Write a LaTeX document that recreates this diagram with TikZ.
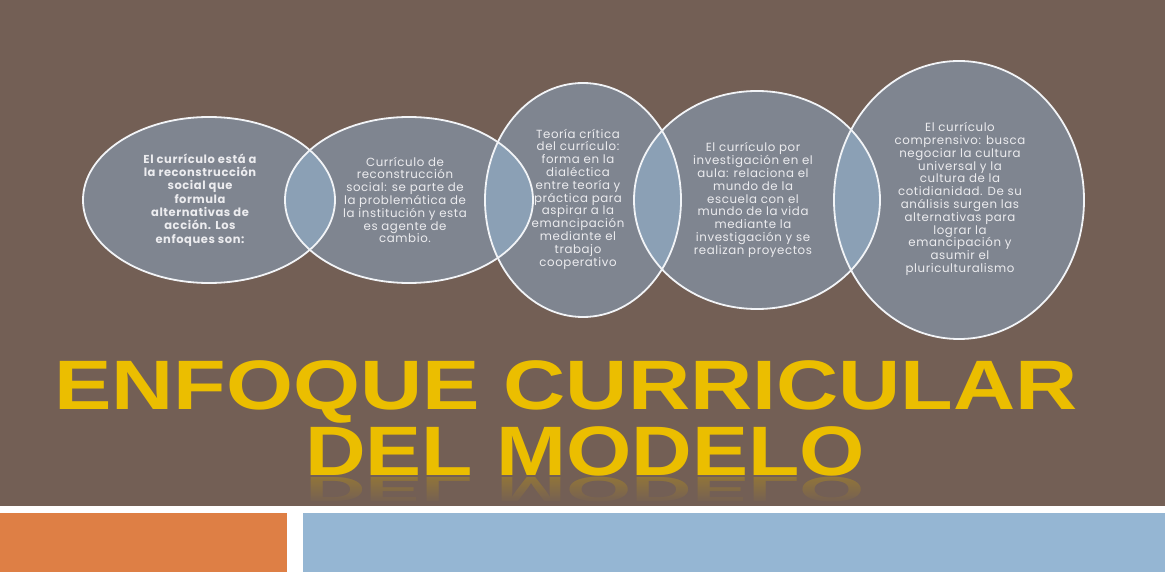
\documentclass[tikz,border=0pt]{standalone}
\usepackage{fontspec}
\setmainfont{Poppins}
\newfontfamily\titlefont{Liberation Sans}
\usetikzlibrary{fadings}
\definecolor{bgbrown}{HTML}{735F55}
\definecolor{orangebar}{HTML}{DE7F45}
\definecolor{bluebar}{HTML}{95B6D3}
\definecolor{ellfill}{HTML}{7F8590}
\definecolor{lensfill}{HTML}{8BA0B5}
\definecolor{ringcol}{HTML}{F2F4F7}
\definecolor{txtcol}{HTML}{ECECEF}
\definecolor{goldmain}{HTML}{EBBE00}
\definecolor{goldrefl}{HTML}{D8A800}
\tikzfading[name=reflfade, top color=transparent!100, bottom color=transparent!0]
\tikzset{
  ringline/.style={draw=ringcol, line width=1.8pt},
  ctext/.style={align=center, inner sep=0pt, text=txtcol, font=\addfontfeatures{LetterSpace=5}\fontsize{11.8}{12.8}\selectfont},
  ttl/.style={anchor=base, inner sep=0pt, font=\titlefont\bfseries\fontsize{70}{70}\selectfont},
}
\begin{document}
\begin{tikzpicture}[x=1pt,y=-1pt]
\useasboundingbox (0,0) rectangle (1165,572);
\fill[white] (0,0) rectangle (1165,572);
\fill[bgbrown] (0,0) rectangle (1165,506);
\fill[orangebar] (0,513) rectangle (287,572);
\fill[bluebar] (303,513) rectangle (1165,572);
% ellipses
\def\ea{(209,200) ellipse [x radius=126pt, y radius=83pt]}
\def\eb{(409,200) ellipse [x radius=124pt, y radius=83pt]}
\def\ec{(583,200) ellipse [x radius=98pt, y radius=117pt]}
\def\ed{(757,200) ellipse [x radius=123pt, y radius=109pt]}
\def\ee{(959,200) ellipse [x radius=125pt, y radius=139pt]}
\fill[ellfill] \ea; \fill[ellfill] \eb; \fill[ellfill] \ec; \fill[ellfill] \ed; \fill[ellfill] \ee;
\begin{scope}\clip \ea; \fill[lensfill] \eb; \end{scope}
\begin{scope}\clip \eb; \fill[lensfill] \ec; \end{scope}
\begin{scope}\clip \ec; \fill[lensfill] \ed; \end{scope}
\begin{scope}\clip \ed; \fill[lensfill] \ee; \end{scope}
\path[ringline] \ea; \path[ringline] \eb; \path[ringline] \ec; \path[ringline] \ed; \path[ringline] \ee;
% texts
\node[ctext, font=\addfontfeatures{LetterSpace=5}\bfseries\fontsize{11.5}{13.3}\selectfont] (t1) at (200,200) {El currículo está a\\la reconstrucción\\social que\\formula\\alternativas de\\acción. Los\\enfoques son:};
\node[ctext] (t2) at (405,200) {Currículo de\\reconstrucción\\social: se parte de\\la problemática de\\la institución y esta\\es agente de\\cambio.};
\node[ctext] (t3) at (578,199) {Teoría crítica\\del currículo:\\forma en la\\dialéctica\\entre teoría y\\práctica para\\aspirar a la\\emancipación\\mediante el\\trabajo\\cooperativo};
\node[ctext] (t4) at (753,200) {El currículo por\\investigación en el\\aula: relaciona el\\mundo de la\\escuela con el\\mundo de la vida\\mediante la\\investigación y se\\realizan proyectos};
\node[ctext] (t5) at (960,199) {El currículo\\comprensivo: busca\\negociar la cultura\\universal y la\\cultura de la\\cotidianidad. De su\\análisis surgen las\\alternativas para\\lograr la\\emancipación y\\asumir el\\pluriculturalismo};
% reflection of the second title line (short, faded)
\begin{scope}
\clip (0,476) rectangle (1165,506);
\begin{scope}[shift={(585,477)}, yscale=-0.5, transform shape]
\node[ttl, text=goldrefl, opacity=0.3] (r2) at (0,0) {\scalebox{1.20}[1]{DEL MODELO}};
\end{scope}
\fill[bgbrown, path fading=reflfade] (0,477) rectangle (1165,504);
\end{scope}
% title
\node[ttl, text=goldmain] (a1) at (566,409) {\scalebox{1.23}[1]{ENFOQUE CURRICULAR}};
\node[ttl, text=goldmain] (b1) at (585,475) {\scalebox{1.20}[1]{DEL MODELO}};
\end{tikzpicture}
\end{document}
